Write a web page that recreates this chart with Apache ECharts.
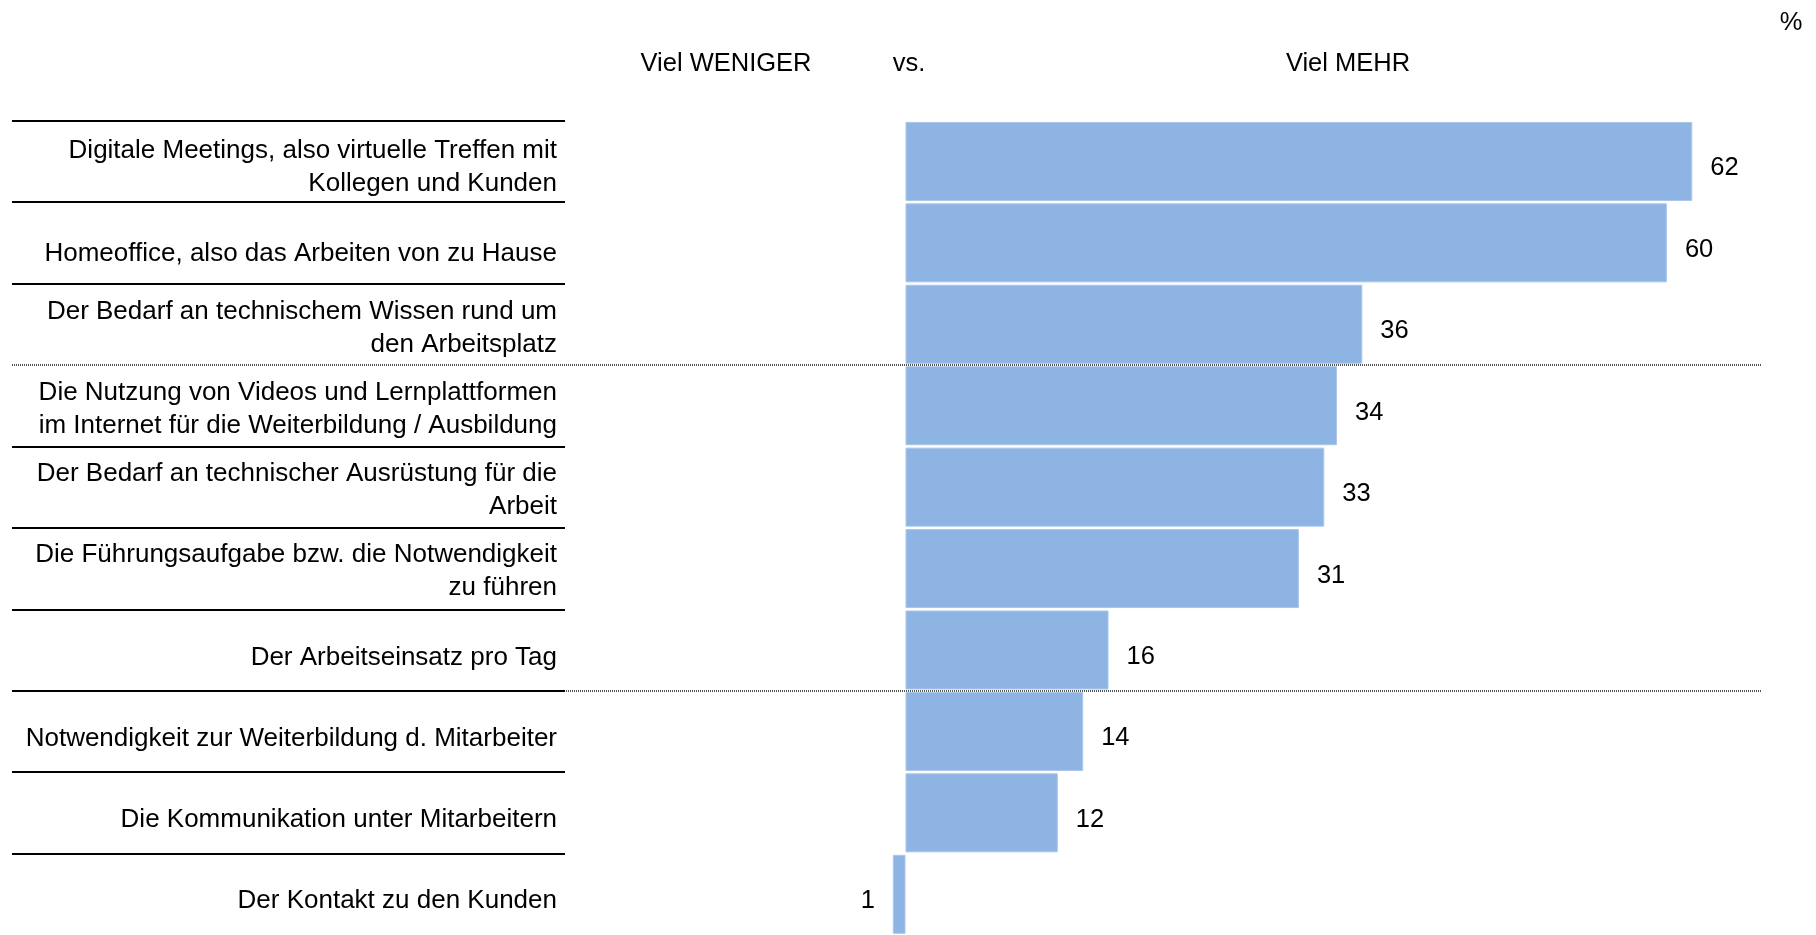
<!DOCTYPE html>
<html>
<head>
<meta charset="utf-8">
<title>Viel WENIGER vs. Viel MEHR</title>
<script src="https://cdn.jsdelivr.net/npm/echarts@6/dist/echarts.min.js"></script>
<style>
  html, body { margin: 0; padding: 0; background: #fff; }
  #chart { width: 1816px; height: 935px; }
</style>
</head>
<body>
<div id="chart"></div>
<script>
// data (negative = "Viel WENIGER" side)
const categories = [
  'Digitale Meetings, also virtuelle Treffen mit\nKollegen und Kunden',
  'Homeoffice, also das Arbeiten von zu Hause',
  'Der Bedarf an technischem Wissen rund um\nden Arbeitsplatz',
  'Die Nutzung von Videos und Lernplattformen\nim Internet für die Weiterbildung / Ausbildung',
  'Der Bedarf an technischer Ausrüstung für die\nArbeit',
  'Die Führungsaufgabe bzw. die Notwendigkeit\nzu führen',
  'Der Arbeitseinsatz pro Tag',
  'Notwendigkeit zur Weiterbildung d. Mitarbeiter',
  'Die Kommunikation unter Mitarbeitern',
  'Der Kontakt zu den Kunden'
];
const values = [62, 60, 36, 34, 33, 31, 16, 14, 12, -1];

// row boundaries with rules under the labels, and the group dividers
const solidRules = [0, 1, 2, 4, 5, 6, 7, 8, 9];
const dottedRules = [3, 7];

const headers = ['Viel WENIGER', 'vs.', 'Viel MEHR', '%'];

const FONT = '"Liberation Sans", Arial, sans-serif';
const chart = echarts.init(document.getElementById('chart'));

const rowsTop = 120.7;
const rowsHeight = 819;
const labelShift = 6; // row labels sit a little below the bar centres

chart.setOption({
  animation: false,
  textStyle: { fontFamily: FONT },
  title: [
    { text: headers[0], left: 726, top: 51, textAlign: 'center' },
    { text: headers[1], left: 909, top: 51, textAlign: 'center' },
    { text: headers[2], left: 1348, top: 51, textAlign: 'center' },
    { text: headers[3], left: 1791, top: 10, textAlign: 'center' }
  ].map(t => ({
    ...t, padding: 0,
    textStyle: { fontFamily: FONT, fontSize: 25.5, fontWeight: 'normal', color: '#000' }
  })),
  grid: [
    { left: 651.7, right: 22.2, top: rowsTop, height: rowsHeight },               // bars
    { left: 12, width: 553, top: rowsTop, height: rowsHeight },                    // label rules
    { left: 12, right: 55, top: rowsTop, height: rowsHeight },                     // dotted dividers
    { left: 651.7, right: 22.2, top: rowsTop + labelShift, height: rowsHeight }    // row labels
  ],
  xAxis: [
    { gridIndex: 0, type: 'value', min: -20, max: 70, show: false },
    { gridIndex: 1, type: 'value', min: 0, max: 1, show: false },
    { gridIndex: 2, type: 'value', min: 0, max: 1, show: false },
    { gridIndex: 3, type: 'value', min: -20, max: 70, show: false }
  ],
  yAxis: [
    { gridIndex: 0, type: 'category', data: categories, inverse: true, show: false },
    { gridIndex: 1, type: 'value', min: 0, max: 10, inverse: true, show: false },
    { gridIndex: 2, type: 'value', min: 0, max: 10, inverse: true, show: false },
    {
      gridIndex: 3, type: 'category', data: categories, inverse: true,
      axisLine: { show: false }, axisTick: { show: false }, splitLine: { show: false },
      axisLabel: {
        interval: 0, margin: 94.7, align: 'right',
        fontFamily: FONT, fontSize: 26, lineHeight: 33, color: '#000',
        // single-line labels sit lower in the row than the wrapped ones
        formatter: v => v.includes('\n') ? v : '{g| }\n' + v,
        rich: { g: { fontSize: 2, lineHeight: 12 } }
      }
    }
  ],
  series: [
    {
      type: 'line', xAxisIndex: 2, yAxisIndex: 2, data: [], z: 1, silent: true,
      markLine: {
        symbol: 'none', silent: true, label: { show: false },
        lineStyle: { color: '#555', width: 2, type: [1, 1] },
        data: dottedRules.map(k => ({ yAxis: k }))
      }
    },
    {
      type: 'line', xAxisIndex: 1, yAxisIndex: 1, data: [], z: 2, silent: true,
      markLine: {
        symbol: 'none', silent: true, label: { show: false },
        lineStyle: { color: '#000', width: 2, type: 'solid' },
        data: solidRules.map(k => ({ yAxis: k }))
      }
    },
    {
      type: 'bar', xAxisIndex: 0, yAxisIndex: 0, z: 5,
      barWidth: 79,
      data: values.map(v => v < 0
        ? { value: v, label: { position: 'left' } }
        : v),
      itemStyle: { color: '#8EB4E3', borderColor: '#A9C6EC', borderWidth: 1 },
      label: {
        show: true, position: 'right', distance: 18, offset: [0, 7],
        fontFamily: FONT, fontSize: 25.5, color: '#000',
        formatter: p => Math.abs(p.value)
      }
    }
  ]
});
</script>
</body>
</html>
